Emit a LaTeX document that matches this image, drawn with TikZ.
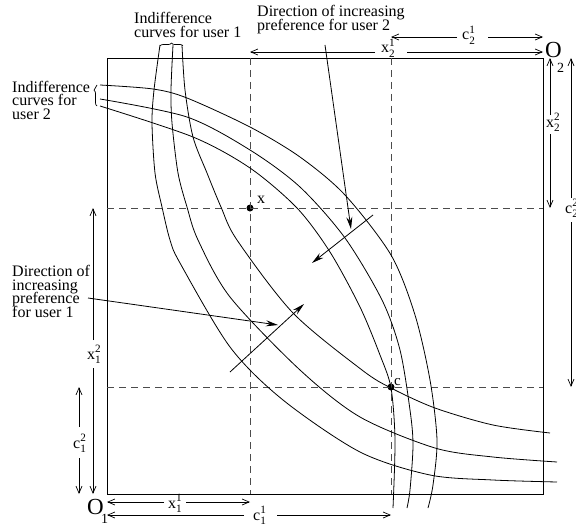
\documentclass[tikz,border=0pt]{standalone}
\usepackage{amsmath}
\usepackage{fontspec}
\setmainfont{Liberation Serif}
\usetikzlibrary{arrows.meta,decorations.pathreplacing}
\newcommand{\dimlbl}[3]{#1$^{\text{#2}}_{\text{#3}}$}
\begin{document}
\begin{tikzpicture}[x=1pt,y=-1pt,
  curve/.style={line width=0.8pt},
  frame/.style={line width=0.9pt},
  guide/.style={line width=0.7pt, black!70, dash pattern=on 7pt off 5pt},
  dim/.style={line width=0.7pt, -{Straight Barb[length=7pt,width=6pt]}},
  pointer/.style={line width=0.8pt, -{Stealth[length=12pt,width=6pt]}},
  lab/.style={font=\fontsize{16}{16}\selectfont, inner sep=0pt, anchor=base west},
  dot/.style={circle, fill=black, inner sep=0pt, minimum size=7pt},
  bigo/.style={font=\fontsize{23}{23}\selectfont, inner sep=0pt, anchor=base west},
  osub/.style={font=\fontsize{14}{14}\selectfont, inner sep=0pt, anchor=base west},
  brc/.style={line width=0.7pt, decorate, decoration={brace, amplitude=3pt}}
]
\useasboundingbox (0,0) rectangle (576,527);

% box
\coordinate (O1) at (107,494);
\coordinate (O2) at (543,58);
\draw[frame] (O1) rectangle (O2);

% points
\node[dot] (px) at (250,208) {};
\node[dot] (pc) at (391,387) {};
\node[lab] (xlab) at (257,203) {x};
\node[lab, font=\fontsize{15}{15}\selectfont] (clab) at (394,385) {c};

% guide lines
\draw[guide] (px |- O2) -- (px |- O1);
\draw[guide] (pc |- O2) -- (pc |- O1);
\draw[guide] (px -| O1) -- (px -| O2);
\draw[guide] (pc -| O1) -- (pc -| O2);

% indifference curves user 1
\draw[curve] plot[smooth] coordinates {(160,45) (154,90) (152,123) (155,173) (162,207) (170,240) (180,263) (230,347) (283,400) (360,452) (430,475) (493,480) (557,482)};
\draw[curve] plot[smooth] coordinates {(173,45) (171,90) (172,123) (178,173) (187,207) (198,240) (230,297) (300,370) (360,417) (435,448) (493,457) (557,462)};
\draw[curve] plot[smooth] coordinates {(182,45) (185,90) (193,137) (207,173) (221,207) (237,240) (293,313) (362,370) (391,388) (435,408) (493,425) (550,433)};

% indifference curves user 2
\draw[curve] plot[smooth] coordinates {(100,106) (193,137) (250,168) (297,208) (330,252) (360,307) (380,355) (391,388) (395,440) (393,508)};
\draw[curve] plot[smooth] coordinates {(100,99) (187,117) (250,150) (300,187) (345,238) (382,300) (400,350) (410,410) (413,445) (410,490) (407,508)};
\draw[curve] plot[smooth] coordinates {(100,85) (153,89) (187,98) (250,127) (300,157) (345,195) (391,255) (415,315) (430,380) (437,440) (433,485) (428,508)};

% braces
\coordinate (b1a) at (160,46); \coordinate (b1b) at (183,46);
\draw[brc] (b1a) -- (b1b);
\coordinate (b2a) at (97,106); \coordinate (b2b) at (97,85);
\draw[brc, decoration={brace, amplitude=3pt, aspect=0.75}] (b2a) -- (b2b);

% labels
\node[lab] (t1a) at (134,24) {Indifference};
\node[lab] (t1b) at (134,37.7) {curves for user 1};
\node[lab] (t2a) at (257,16.7) {Direction of increasing};
\node[lab] (t2b) at (257,30.5) {preference for user 2};
\node[lab] (t3a) at (12,92.7) {Indifference};
\node[lab] (t3b) at (12,106) {curves for};
\node[lab] (t3c) at (12,119.3) {user 2};
\node[lab] (t4a) at (12,276.7) {Direction of};
\node[lab] (t4b) at (12,290) {increasing};
\node[lab] (t4c) at (12,303.3) {preference};
\node[lab] (t4d) at (12,317) {for user 1};

% origins
\node[bigo] (o2) at (545,58) {O};
\node[osub] (o2s) at (557,73) {2};
\node[bigo] (o1) at (87,514) {O};
\node[osub] (o1s) at (101,523) {1};

% direction arrows
\coordinate (d1s) at (230,372); \coordinate (d1e) at (304,304);
\draw[pointer] (d1s) -- (d1e);
\coordinate (d2s) at (373,215); \coordinate (d2e) at (312,263);
\draw[pointer] (d2s) -- (d2e);
\coordinate (p1s) at (88,298); \coordinate (p1e) at (278,325);
\draw[pointer] (p1s) -- (p1e);
\coordinate (p2s) at (325,45); \coordinate (p2e) at (351,229);
\draw[pointer] (p2s) -- (p2e);

% dimension labels
\node[lab] (lx21) at (381,53) {\dimlbl{x}{1}{2}};
\node[lab] (lc21) at (462,40) {\dimlbl{c}{1}{2}};
\node[lab] (lx22) at (546,127) {\dimlbl{x}{2}{2}};
\node[lab] (lc22) at (565,213) {\dimlbl{c}{2}{2}};
\node[lab] (lx12) at (87,359) {\dimlbl{x}{2}{1}};
\node[lab] (lc12) at (73,448) {\dimlbl{c}{2}{1}};
\node[lab] (lx11) at (168,508) {\dimlbl{x}{1}{1}};
\node[lab] (lc11) at (253,520) {\dimlbl{c}{1}{1}};

% dimension arrows
\coordinate (x21a) at (375,52); \coordinate (x21b) at (407,52);
\draw[dim] (x21a) -- (px |- x21a);
\draw[dim] (x21b) -- (O2 |- x21b);
\coordinate (c21a) at (457,37); \coordinate (c21b) at (488,37);
\draw[dim] (c21a) -- (pc |- c21a);
\draw[dim] (c21b) -- (O2 |- c21b);
\coordinate (x22a) at (550,115); \coordinate (x22b) at (550,134);
\draw[dim] (x22a) -- (x22a |- O2);
\draw[dim] (x22b) -- (x22b |- px);
\coordinate (c22a) at (571,198); \coordinate (c22b) at (571,222);
\draw[dim] (c22a) -- (c22a |- O2);
\draw[dim] (c22b) -- (c22b |- pc);
\coordinate (x12a) at (93,340); \coordinate (x12b) at (93,368);
\draw[dim] (x12a) -- (x12a |- px);
\draw[dim] (x12b) -- (x12b |- O1);
\coordinate (c12a) at (79,427); \coordinate (c12b) at (79,458);
\draw[dim] (c12a) -- (c12a |- pc);
\draw[dim] (c12b) -- (c12b |- O1);
\coordinate (x11a) at (164,502); \coordinate (x11b) at (186,502);
\draw[dim] (x11a) -- (O1 |- x11a);
\draw[dim] (x11b) -- (px |- x11b);
\coordinate (c11a) at (244,515); \coordinate (c11b) at (277,515);
\draw[dim] (c11a) -- (O1 |- c11a);
\draw[dim] (c11b) -- (pc |- c11b);
\end{tikzpicture}
\end{document}
